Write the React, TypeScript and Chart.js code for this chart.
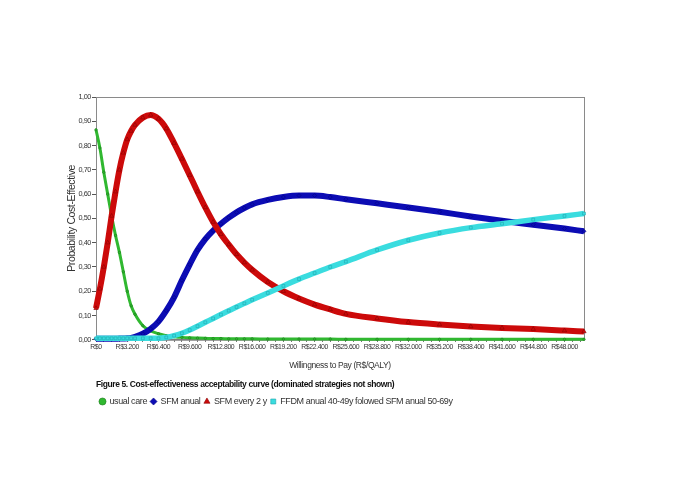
import React, { useEffect, useRef } from 'react';
import { Chart, registerables } from 'chart.js';

Chart.register(...registerables);

// Willingness to pay (R$/QALY)
const wtp = [0, 400, 800, 1200, 1600, 2000, 2400, 2800, 3200, 3600, 4000, 4800, 5600, 6400, 7200, 8000, 8800, 9600, 10400, 11200, 12000, 12800, 13600, 14400, 15200, 16000, 17600, 19200, 20800, 22400, 24000, 25600, 28800, 32000, 35200, 38400, 41600, 44800, 48000, 50000];

const usualCare = [0.865, 0.79, 0.69, 0.6, 0.51, 0.43, 0.36, 0.28, 0.2, 0.14, 0.105, 0.058, 0.037, 0.025, 0.017, 0.013, 0.01, 0.008, 0.007, 0.006, 0.005, 0.005, 0.004, 0.004, 0.004, 0.004, 0.003, 0.003, 0.003, 0.003, 0.003, 0.002, 0.002, 0.002, 0.002, 0.002, 0.002, 0.002, 0.002, 0.002];

const sfmAnual = [0.004, 0.004, 0.004, 0.004, 0.004, 0.004, 0.005, 0.005, 0.006, 0.008, 0.012, 0.025, 0.045, 0.075, 0.12, 0.175, 0.245, 0.31, 0.37, 0.415, 0.45, 0.478, 0.503, 0.525, 0.543, 0.558, 0.576, 0.588, 0.594, 0.594, 0.588, 0.579, 0.562, 0.545, 0.527, 0.508, 0.49, 0.474, 0.458, 0.447];

const sfmEvery2y = [0.13, 0.21, 0.3, 0.4, 0.51, 0.61, 0.7, 0.77, 0.825, 0.86, 0.885, 0.915, 0.926, 0.91, 0.87, 0.81, 0.745, 0.678, 0.61, 0.545, 0.485, 0.435, 0.392, 0.352, 0.318, 0.288, 0.238, 0.2, 0.17, 0.145, 0.125, 0.107, 0.088, 0.073, 0.063, 0.055, 0.049, 0.044, 0.038, 0.034];

const ffdmSfm = [0.006, 0.006, 0.006, 0.006, 0.006, 0.006, 0.006, 0.006, 0.006, 0.006, 0.006, 0.006, 0.006, 0.006, 0.01, 0.017, 0.027, 0.04, 0.056, 0.072, 0.088, 0.104, 0.12, 0.135, 0.15, 0.165, 0.193, 0.222, 0.25, 0.275, 0.3, 0.322, 0.37, 0.41, 0.44, 0.462, 0.478, 0.495, 0.51, 0.52];

const xTickValues = [0, 3200, 6400, 9600, 12800, 16000, 19200, 22400, 25600, 28800, 32000, 35200, 38400, 41600, 44800, 48000];
const xMinorStep = 800;
const xMax = 50000;
const yTickValues = [0, 0.1, 0.2, 0.3, 0.4, 0.5, 0.6, 0.7, 0.8, 0.9, 1.0];

const seriesNames = ['usual care', 'SFM anual', 'SFM every 2 y', 'FFDM anual 40-49y folowed SFM anual 50-69y'];
const captionText = 'Figure 5. Cost-effectiveness acceptability curve (dominated strategies not shown)';
const xTitle = 'Willingness to Pay (R$/QALY)';
const yTitle = 'Probability Cost-Effective';

const FONT = "'Liberation Sans', Arial, sans-serif";

const fmtX = (v: number) => {
  if (v === 0) return 'R$0';
  const th = Math.floor(v / 1000);
  const rest = String(Math.round(v % 1000)).padStart(3, '0');
  return 'R$' + th + '.' + rest;
};
const fmtY = (v: number) => v.toFixed(2).replace('.', ',');

const pts = (ys: number[]) => wtp.map((x, i) => ({ x, y: ys[i] }));

const narrow = (chart: any) => {
  try { chart.ctx.letterSpacing = '-0.4px'; } catch (e) { /* ignore */ }
};

const framePlugin = {
  id: 'frame',
  beforeInit: narrow,
  beforeLayout: narrow,
  beforeDraw: narrow,
  beforeDatasetsDraw(chart: any) {
    const { ctx, chartArea } = chart;
    ctx.save();
    ctx.strokeStyle = '#8a8a8a';
    ctx.lineWidth = 1;
    ctx.strokeRect(chartArea.left + 0.5, chartArea.top + 0.5, chartArea.right - chartArea.left, chartArea.bottom - chartArea.top);
    ctx.restore();
  },
};

export default function App() {
  const ref = useRef<HTMLCanvasElement | null>(null);
  useEffect(() => {
    if (!ref.current) return;
    const mk = (label: string, data: number[], color: string, edge: string, style: string, width: number, radius: number, order: number) => ({
      label,
      data: pts(data),
      borderColor: color,
      backgroundColor: color,
      borderWidth: width,
      pointStyle: style,
      pointRadius: radius,
      pointBackgroundColor: color,
      pointBorderColor: edge,
      pointBorderWidth: 0.6,
      cubicInterpolationMode: 'monotone',
      clip: 5,
      order,
    });
    const chart = new Chart(ref.current, {
      type: 'line',
      data: {
        datasets: [
          mk(seriesNames[0], usualCare, '#30b830', '#1a7a1a', 'circle', 3, 1.2, 3),
          mk(seriesNames[1], sfmAnual, '#0c0cb4', '#000080', 'rectRot', 6, 2, 2),
          mk(seriesNames[2], sfmEvery2y, '#cc0a0a', '#8a0000', 'triangle', 6, 2.5, 1),
          mk(seriesNames[3], ffdmSfm, '#3adcdf', '#20a8b0', 'rect', 5.5, 2, 0),
        ] as any,
      },
      options: {
        animation: false,
        responsive: false,
        events: [],
        layout: { padding: { left: 60, top: 97, right: 101, bottom: 68 } },
        scales: {
          x: {
            type: 'linear',
            min: 0,
            max: xMax,
            afterBuildTicks: (scale: any) => {
              const t: any[] = [];
              for (let v = 0; v <= xMax; v += xMinorStep) t.push({ value: v });
              scale.ticks = t;
            },
            afterFit: (scale: any) => { scale.height = 34; },
            ticks: {
              autoSkip: false,
              maxRotation: 0,
              padding: 1,
              color: '#333',
              font: { family: FONT, size: 6.9 },
              callback: (v: any) => (xTickValues.includes(Number(v)) ? fmtX(Number(v)) : ''),
            },
            grid: { display: true, drawOnChartArea: false, drawTicks: true, tickLength: 2, color: '#555' },
            border: { display: true, color: '#777' },
            title: { display: true, text: xTitle, color: '#333', font: { family: FONT, size: 8.5 }, padding: { top: 0, bottom: 3 } },
          },
          y: {
            type: 'linear',
            min: 0,
            max: 1,
            afterBuildTicks: (scale: any) => { scale.ticks = yTickValues.map((v) => ({ value: v })); },
            afterFit: (scale: any) => { scale.width = 36; },
            ticks: {
              padding: 1,
              color: '#333',
              font: { family: FONT, size: 7.3 },
              callback: (v: any) => fmtY(Number(v)),
            },
            grid: { display: true, drawOnChartArea: false, drawTicks: true, tickLength: 4, color: '#555' },
            border: { display: true, color: '#777' },
            title: { display: true, text: yTitle, color: '#333', font: { family: FONT, size: 10.5 }, padding: { top: 6, bottom: 0 } },
          },
        },
        plugins: {
          tooltip: { enabled: false },
          title: {
            display: true,
            text: captionText,
            position: 'bottom',
            align: 'start',
            fullSize: false,
            weight: 100,
            color: '#111',
            font: { family: FONT, size: 8.5, weight: 'bold' },
            padding: { top: 6, bottom: 3 },
          },
          legend: {
            display: true,
            position: 'bottom',
            align: 'start',
            fullSize: false,
            weight: 1000,
            labels: {
              usePointStyle: true,
              boxWidth: 5,
              boxHeight: 5,
              padding: 4,
              color: '#333',
              font: { family: FONT, size: 9 },
              sort: (a: any, b: any) => a.datasetIndex - b.datasetIndex,
            },
          },
        },
      } as any,
      plugins: [framePlugin],
    });
    return () => chart.destroy();
  }, []);
  return (
    <div style={{ position: 'fixed', left: 0, top: 0, width: 685, height: 484, background: '#fff' }}>
      <canvas ref={ref} width={685} height={484} style={{ width: 685, height: 484, display: 'block' }} />
    </div>
  );
}
